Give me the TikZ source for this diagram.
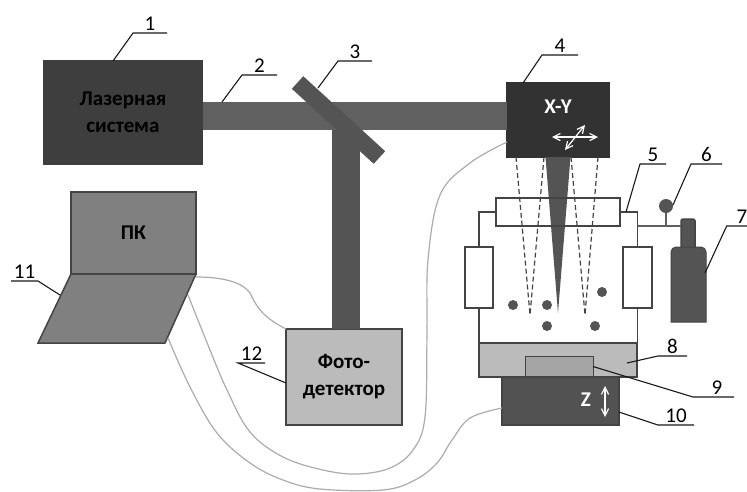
\documentclass[tikz,border=0pt]{standalone}
\usepackage{fontspec}
\setmainfont{Carlito}
\usetikzlibrary{arrows.meta,calc}
\definecolor{lsdark}{RGB}{62,62,62}
\definecolor{lsscan}{RGB}{50,50,50}
\definecolor{lsbeam}{RGB}{96,96,96}
\definecolor{lsmirror}{RGB}{84,84,84}
\definecolor{lspc}{RGB}{128,128,128}
\definecolor{lslight}{RGB}{187,187,187}
\definecolor{lssample}{RGB}{165,165,165}
\definecolor{lsstage}{RGB}{82,82,82}
\definecolor{lsedge}{RGB}{68,68,68}
\definecolor{lscable}{RGB}{172,172,172}
\tikzset{
  base/.style={
    draw=lsedge, line width=1.5pt, inner sep=0pt, outer sep=0pt,
    align=center, font=\fontsize{21}{27}\selectfont\bfseries
  },
  laserbox/.style={base, fill=lsdark, draw=lsdark, text=black},
  scanbox/.style={base, fill=lsscan, draw=lsscan, text=white},
  pcbox/.style={base, fill=lspc, text=black},
  lightbox/.style={base, fill=lslight, text=black},
  samplebox/.style={base, fill=lssample, line width=0.8pt},
  stagebox/.style={base, fill=lsstage, text=white},
  window/.style={base, fill=white, line width=1.3pt},
  inletbox/.style={base, line width=1.3pt},
  mirror/.style={fill=lsmirror, inner sep=0pt, outer sep=0pt, rotate=-42.5},
  dot/.style={circle, fill=lsmirror, inner sep=0pt, minimum size=10pt},
  beam/.style={draw=lsbeam, line width=28pt},
  wall/.style={draw=lsedge, line width=1.3pt},
  pipe/.style={draw=lsbeam, line width=1.2pt},
  scanray/.style={draw=lsedge, line width=1.2pt, dash pattern=on 5pt off 3pt},
  cable/.style={draw=lscable, line width=1.2pt},
  ar/.style={{Straight Barb[length=2.5mm,width=2.5mm]}-{Straight Barb[length=2.5mm,width=2.5mm]},
    draw=white, line width=1.2pt},
  numlabel/.style={inner sep=0pt, outer sep=0pt, text height=14pt, text depth=2.5pt, font=\fontsize{21}{24}\selectfont},
  lead/.style={draw=black!90, line width=1.1pt},
  marklabel/.style={font=\fontsize{21}{24}\selectfont\bfseries, text=white, inner sep=0pt},
}
\begin{document}
\begin{tikzpicture}[x=1pt,y=-1pt]
  \useasboundingbox[fill=white] (0,0) rectangle (747,491);

  % ===== scanner, photodetector and laptop screen =====
  \node[scanbox, minimum width=102pt, minimum height=74pt] (scan) at (558,120) {};
  \node[lightbox, minimum width=116pt, minimum height=96pt] (photo) at (344,377) {Фото-\\детектор};
  \node[pcbox, minimum width=125pt, minimum height=82pt] (screen) at (133.5,233) {ПК};

  % ===== cables go under everything =====
  \coordinate (keyedge) at (188,295);
  \coordinate (keylow) at (168,338);
  \draw[cable] (196,277) .. controls (225,277) and (243,283) .. (250,293)
    .. controls (258,310) and (265,318) .. (photo.north west);
  \draw[cable] plot[smooth, tension=0.6] coordinates {(keyedge) (208,345) (227,390) (250,432) (283,457)
    (323,470) (357,474) (390,468) (413,450) (425,417) (427,333) (428,260) (440,195) (470,163)
    ([yshift=-22pt]scan.west)};

  % ===== beam line =====
  \coordinate (beamin) at (202,116);
  \draw[beam] (beamin) -- (beamin -| scan.west);
  \draw[beam, draw=lsmirror] ([xshift=1.5pt]photo.north) -- ++(0,-199);
  \node[laserbox, minimum width=158pt, minimum height=103pt] (laser) at (123,112.5) {Лазерная\\система};
  \node[mirror, minimum width=111pt, minimum height=17pt] (splitter) at (338.5,120) {};
  \node[marklabel] (xy) at (558,107) {X-Y};
  \draw[ar] (552,137) -- (598,137);
  \draw[ar] (565,150) -- (585,125);

  % ===== stage =====
  \node[lightbox, minimum width=158pt, minimum height=34pt] (holder) at (558,360) {};
  \node[samplebox, minimum width=68pt, minimum height=21pt] (sample) at (559,366.5) {};
  \node[stagebox, minimum width=117pt, minimum height=48pt] (zstage) at (560.5,401) {};
  \node[marklabel] (zmark) at (586,400) {Z};
  \draw[ar] (605,386) -- (605,417);

  % ===== chamber =====
  \fill[lsmirror] ([xshift=-12.5pt]scan.south) -- ([xshift=12.5pt]scan.south) -- (558,313) -- cycle;
  \coordinate (rayleft) at (530,315);
  \coordinate (rayright) at (585,315);
  \draw[scanray] ([xshift=-42pt]scan.south) -- (rayleft);
  \draw[scanray] ([xshift=-14pt]scan.south) -- (rayleft);
  \draw[scanray] ([xshift=13pt]scan.south) -- (rayright);
  \draw[scanray] ([xshift=40pt]scan.south) -- (rayright);
  \node[inletbox, minimum width=124pt, minimum height=28pt] (inlet) at (558,212) {};
  \node[window, minimum width=28pt, minimum height=61pt] (winleft) at (479,277.5) {};
  \node[window, minimum width=29pt, minimum height=61pt] (winright) at (637.5,277.5) {};
  \draw[wall] (inlet.west) -| (winleft.north);
  \draw[wall] (inlet.east) -| (winright.north);
  \draw[wall] (winleft.south) -- (winleft.south |- holder.north);
  \draw[wall] (winright.south) -- (winright.south |- holder.north);
  \foreach \i/\x/\y in {1/513/305, 2/547/305, 3/602/292, 4/547/326, 5/595/326}
    \node[dot] (spot\i) at (\x,\y) {};

  % ===== gas line =====
  \coordinate (tee) at (637.5,226);
  \node[dot, minimum size=14pt] (gauge) at (666,206) {};
  \node[base, fill=lsmirror, rounded corners=2pt, minimum width=14pt, minimum height=30pt] (neck) at (688,234) {};
  \draw[base, fill=lsmirror, line width=1pt] (671,322) [rounded corners=5pt] -- (671,247) -- (706,247)
    [sharp corners] -- (706,322) -- cycle;
  \draw[pipe] (tee) -- (tee -| neck.west);
  \draw[pipe] (gauge.south) -- (gauge.south |- tee);

  % ===== laptop keyboard =====
  \draw[base, fill=lspc] (screen.south west) -- (screen.south east) -- ++(-31,69) -- ++(-127,0) -- cycle;
  \draw[cable] plot[smooth, tension=0.6] coordinates {(keylow) (190,387) (217,433) (250,463) (283,480)
    (320,489) (383,490) (415,480) (437,463) (452,440) (470,418) ([yshift=-7pt]zstage.west)};

  % ===== numbered leaders =====
  \coordinate (from1) at ([xshift=69pt]laser.north west);
  \coordinate (from2) at (222,102);
  \coordinate (from3) at (318,88);
  \coordinate (from4) at ([xshift=16pt]scan.north west);
  \coordinate (from5) at (626,212);
  \coordinate (from6) at (673,205);
  \coordinate (from7) at (705,273);
  \coordinate (from8) at (627,363);
  \coordinate (from9) at (sample.east);
  \coordinate (from10) at ([yshift=-11pt]zstage.east);
  \coordinate (from12) at ([yshift=-6pt]photo.west);
  \coordinate (from11) at (60,295);
  \foreach \n/\x/\y/\w/\t in {1/150/33/34/1, 2/259.5/75/35/2, 3/355/61/34/3, 4/560/55/36/4,
      5/653/164/26/5, 6/706.5/164/31/6, 7/737/226/20/\hspace*{10pt}7, 8/672.5/356/29/8,
      9/713.5/397/41/\hspace*{7pt}9, 10/676/425/36/10, 11/24.5/281/27/11, 12/251.5/363/27/12}
    \node[numlabel, anchor=south, minimum width=\w pt] (lab\n) at (\x,\y) {\t};
  \foreach \n in {1,2,...,10,12}
    \draw[lead] (from\n) -- (lab\n.south west) -- (lab\n.south east);
  \draw[lead] (from11) -- (lab11.south east) -- (lab11.south west);

\end{tikzpicture}
\end{document}
